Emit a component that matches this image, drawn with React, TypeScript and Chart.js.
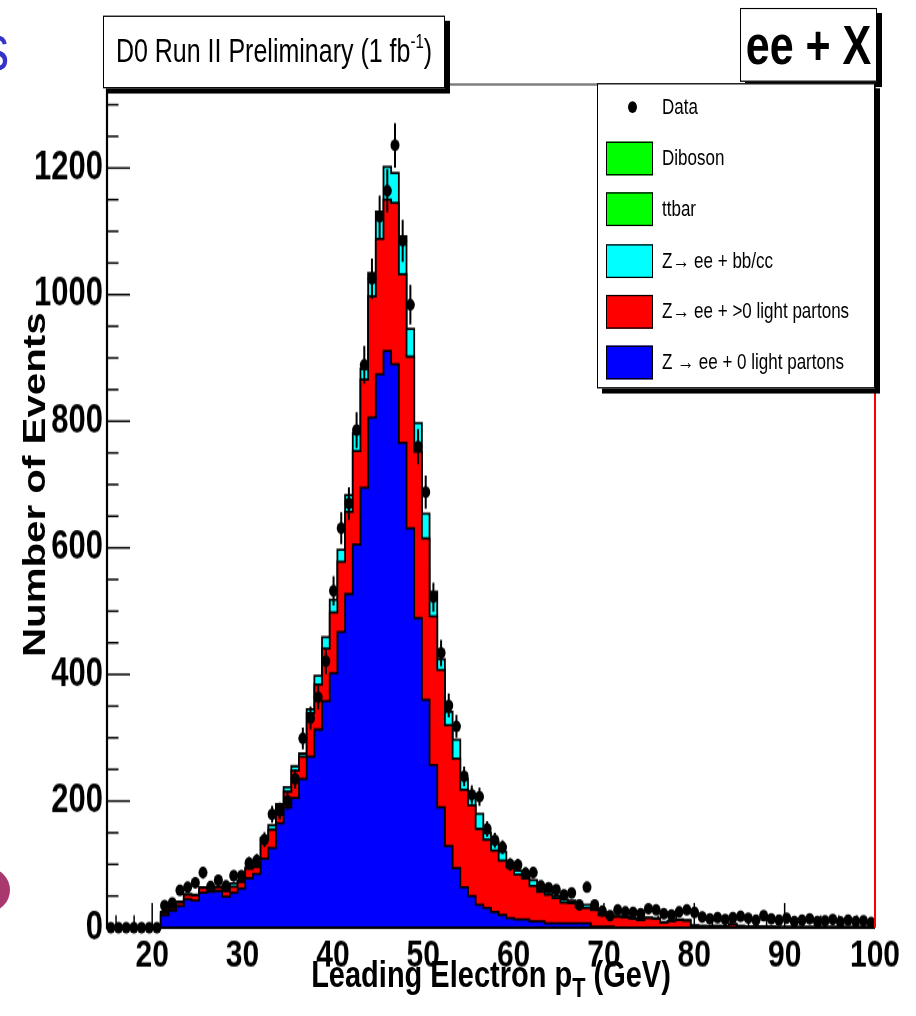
import React, { useEffect, useRef } from "react";
import { Chart, registerables } from "chart.js";

Chart.register(...registerables);

// ---- axis / binning ----
const X_MIN = 15;
const X_MAX = 100;
const N_BINS = 100;
const Y_MAX = 1332;
const xTickValues = [20, 30, 40, 50, 60, 70, 80, 90, 100];
const yTickValues = [0, 200, 400, 600, 800, 1000, 1200];

// ---- per-bin contents (100 bins, 15-100 GeV) ----
// Z -> ee + 0 light partons (blue)
const zee0Light = [
  0, 0, 0, 0, 0, 0, 0, 20, 27, 34,
  45, 43, 55, 57, 58, 49, 55, 62, 78, 85,
  109, 126, 165, 190, 205, 235, 270, 313, 358, 402,
  467, 527, 605, 695, 806, 874, 911, 890, 766, 631,
  489, 360, 257, 190, 129, 94, 64, 50, 36, 31,
  25, 20, 15, 13, 13, 10, 10, 7, 7, 7,
  7, 7, 7, 2, 2, 2, 0, 0, 0, 0,
  0, 0, 0, 0, 0, 0, 0, 0, 0, 0,
  0, 0, 0, 0, 0, 0, 0, 0, 0, 0,
  0, 0, 0, 0, 0, 0, 0, 0, 0, 0,
];
// Z -> ee + >0 light partons (red)
const zeeLight = [
  0, 0, 0, 0, 0, 0, 0, 4, 4, 6,
  7, 8, 8, 5, 6, 9, 10, 10, 15, 11,
  31, 29, 27, 25, 43, 35, 69, 71, 83, 96,
  111, 130, 148, 171, 191, 214, 239, 255, 266, 271,
  263, 255, 235, 217, 191, 173, 154, 143, 120, 108,
  97, 86, 81, 71, 65, 56, 47, 45, 40, 33,
  32, 26, 24, 26, 18, 16, 17, 16, 14, 12,
  15, 14, 8, 10, 12, 11, 3, 3, 2, 3,
  2, 5, 3, 2, 2, 2, 1, 1, 1, 1,
  1, 1, 1, 1, 1, 1, 1, 1, 1, 1,
];
// Z -> ee + bb/cc (cyan)
const zeeHF = [
  0, 0, 0, 0, 0, 0, 0, 1, 1, 1,
  1, 1, 1, 1, 1, 2, 5, 2, 2, 2,
  2, 7, 3, 7, 7, 5, 6, 14, 18, 20,
  19, 26, 28, 17, 37, 43, 52, 47, 60, 44,
  45, 39, 39, 17, 21, 30, 17, 12, 24, 11,
  13, 14, 6, 6, 6, 9, 4, 4, 3, 5,
  4, 3, 5, 2, 2, 1, 1, 1, 1, 1,
  1, 1, 1, 1, 1, 1, 1, 0, 1, 0,
  1, 1, 0, 0, 0, 0, 1, 0, 0, 0,
  0, 0, 0, 0, 0, 0, 0, 0, 0, 0,
];
// Data (black points)
const dataCounts = [
  0, 0, 0, 0, 0, 0, 0, 35, 39, 59,
  64, 71, 87, 65, 75, 66, 82, 82, 102, 106,
  139, 179, 184, 200, 235, 299, 331, 364, 421, 532,
  631, 670, 786, 889, 1025, 1123, 1164, 1236, 1085, 984,
  760, 688, 522, 434, 351, 318, 239, 210, 207, 156,
  138, 127, 100, 99, 86, 87, 66, 63, 60, 52,
  55, 36, 64, 36, 26, 19, 28, 25, 24, 22,
  30, 28, 22, 20, 25, 28, 24, 17, 14, 16,
  13, 16, 18, 15, 12, 19, 14, 12, 15, 10,
  12, 14, 10, 11, 13, 9, 12, 10, 11, 8,
];

const legendEntries = [
  { label: "Data", kind: "marker", color: "#000000" },
  { label: "Diboson", kind: "box", color: "#00ff00" },
  { label: "ttbar", kind: "box", color: "#00ff00" },
  { label: "Z\u2192 ee + bb/cc", kind: "box", color: "#00ffff" },
  { label: "Z\u2192 ee + >0 light partons", kind: "box", color: "#ff0000" },
  { label: "Z \u2192 ee + 0 light partons", kind: "box", color: "#0000ff" },
];

// ---- layout (chart drawn unstretched, then stretched vertically) ----
const W = 916;
const H = 782;
const STRETCH = 1016 / H;
const FONT = '"Liberation Sans", Arial, Helvetica, sans-serif';

const rootAxesPlugin = {
  id: "rootAxes",
  beforeDatasetsDraw(chart: any) {
    const { ctx, chartArea: a, scales } = chart;
    const x = scales.x;
    const y = scales.y;
    ctx.save();
    ctx.strokeStyle = "#000";
    ctx.lineWidth = 1.5;
    for (let v = 0; v <= Y_MAX; v += 50) {
      const py = y.getPixelForValue(v);
      const len = v % 200 === 0 ? 23 : 11.5;
      ctx.beginPath();
      ctx.moveTo(a.left, py);
      ctx.lineTo(a.left + len, py);
      ctx.stroke();
    }
    for (let v = 16; v <= X_MAX; v += 2) {
      const px = x.getPixelForValue(v);
      const len = v % 10 === 0 ? 19 : 9.5;
      ctx.beginPath();
      ctx.moveTo(px, a.bottom);
      ctx.lineTo(px, a.bottom - len);
      ctx.stroke();
    }
    ctx.restore();
  },
  afterDatasetsDraw(chart: any) {
    const { ctx, chartArea: a, scales } = chart;
    const x = scales.x;
    const y = scales.y;
    const bw = (X_MAX - X_MIN) / N_BINS;
    ctx.save();
    ctx.strokeStyle = "#000";
    ctx.lineWidth = 2;
    dataCounts.forEach((v, i) => {
      if (v <= 0) return;
      const c = X_MIN + (i + 0.5) * bw;
      const e = Math.sqrt(v);
      const px = x.getPixelForValue(c);
      const py = y.getPixelForValue(v);
      ctx.beginPath();
      ctx.moveTo(px, y.getPixelForValue(v + e));
      ctx.lineTo(px, y.getPixelForValue(Math.max(0, v - e)));
      ctx.moveTo(x.getPixelForValue(c - bw / 2), py);
      ctx.lineTo(x.getPixelForValue(c + bw / 2), py);
      ctx.stroke();
    });
    // frame
    ctx.lineWidth = 1.2;
    ctx.beginPath();
    ctx.moveTo(a.left, a.top);
    ctx.lineTo(a.right, a.top);
    ctx.stroke();
    ctx.lineWidth = 2.2;
    ctx.beginPath();
    ctx.moveTo(a.left, a.top);
    ctx.lineTo(a.left, a.bottom);
    ctx.lineTo(a.right, a.bottom);
    ctx.stroke();
    ctx.strokeStyle = "#ff0000";
    ctx.lineWidth = 2;
    ctx.beginPath();
    ctx.moveTo(a.right, a.top);
    ctx.lineTo(a.right, a.bottom);
    ctx.stroke();
    ctx.restore();
  },
};

export default function App() {
  const canvasRef = useRef<HTMLCanvasElement>(null);

  useEffect(() => {
    const canvas = canvasRef.current;
    if (!canvas) return;
    const bw = (X_MAX - X_MIN) / N_BINS;
    const edges = Array.from({ length: N_BINS + 1 }, (_, i) => X_MIN + i * bw);
    const cumBlue = zee0Light.slice();
    const cumRed = cumBlue.map((v, i) => v + zeeLight[i]);
    const cumCyan = cumRed.map((v, i) => v + zeeHF[i]);
    const steps = (vals: number[]) =>
      edges.map((e, i) => ({ x: e, y: vals[Math.min(i, N_BINS - 1)] }));
    const points = dataCounts.map((v, i) => ({ x: edges[i] + bw / 2, y: v }));
    const hist = (label: string, vals: number[], color: string, order: number) => ({
      label,
      data: steps(vals),
      stepped: "before",
      fill: "origin",
      backgroundColor: color,
      borderColor: "#000",
      borderWidth: 1.8,
      pointRadius: 0,
      order,
    });
    const xTickFont = { family: FONT, size: 30, weight: "bold" };
    const yTickFont = { family: FONT, size: 31, weight: "bold" };
    const chart = new Chart(canvas, {
      type: "line",
      data: {
        datasets: [
          {
            label: "Data",
            data: points,
            showLine: false,
            pointRadius: 4.5,
            pointBackgroundColor: "#000",
            pointBorderColor: "#000",
            pointBorderWidth: 0,
            clip: false,
            order: 0,
          } as any,
          hist("Z \u2192 ee + 0 light partons", cumBlue, "#0000ff", 1),
          hist("Z\u2192 ee + >0 light partons", cumRed, "#ff0000", 2),
          hist("Z\u2192 ee + bb/cc", cumCyan, "#00ffff", 3),
        ],
      },
      options: {
        animation: false,
        responsive: false,
        maintainAspectRatio: false,
        events: [],
        layout: { padding: { top: 65, right: 41, left: 0, bottom: 0 } },
        plugins: { legend: { display: false }, tooltip: { enabled: false } },
        scales: {
          x: {
            type: "linear",
            min: X_MIN,
            max: X_MAX,
            grid: { display: false },
            border: { display: false },
            ticks: {
              font: xTickFont,
              color: "#000",
              padding: -4,
              maxRotation: 0,
              autoSkip: false,
              callback: (v: any) => String(v),
            },
            afterBuildTicks: (s: any) => {
              s.ticks = xTickValues.map((v) => ({ value: v }));
            },
            afterFit: (s: any) => {
              s.height = 68;
            },
          },
          y: {
            type: "linear",
            min: 0,
            max: Y_MAX,
            grid: { display: false },
            border: { display: false },
            ticks: {
              font: yTickFont,
              color: "#000",
              padding: -4,
              autoSkip: false,
              callback: (v: any) => String(v),
            },
            afterBuildTicks: (s: any) => {
              s.ticks = yTickValues.map((v) => ({ value: v }));
            },
            afterFit: (s: any) => {
              s.width = 107;
            },
          },
        },
      } as any,
      plugins: [rootAxesPlugin],
    });
    return () => chart.destroy();
  }, []);

  const boxStyle: React.CSSProperties = {
    position: "absolute",
    background: "#fff",
    border: "1.5px solid #000",
    boxShadow: "5px 4px 0 #000",
    boxSizing: "border-box",
    fontFamily: FONT,
    color: "#000",
  };

  return (
    <div
      style={{
        position: "fixed",
        left: 0,
        top: 0,
        width: 916,
        height: 1016,
        overflow: "hidden",
        background: "#fff",
      }}
    >
      <div
        style={{
          position: "absolute",
          left: 0,
          top: 0,
          width: W,
          height: H,
          transform: `scaleY(${STRETCH})`,
          transformOrigin: "0 0",
        }}
      >
        <canvas
          ref={canvasRef}
          width={W}
          height={H}
          style={{ position: "absolute", left: 0, top: 0 }}
        />
        {/* slide remnant */}
        <div
          style={{
            position: "absolute",
            left: -16,
            top: 12,
            fontFamily: FONT,
            fontSize: 50,
            color: "#3434c8",
            lineHeight: "50px",
          }}
        >
          s
        </div>
        {/* y axis title */}
        <div
          style={{
            position: "absolute",
            left: 35,
            top: 373,
            transform: "translate(-50%, -50%) rotate(-90deg)",
            whiteSpace: "nowrap",
            fontFamily: FONT,
            fontWeight: "bold",
            fontSize: 31,
            color: "#000",
          }}
        >
          Number of Events
        </div>
        {/* x axis title */}
        <div
          style={{
            position: "absolute",
            left: 491,
            top: 751,
            transform: "translate(-50%, -50%)",
            whiteSpace: "nowrap",
            fontFamily: FONT,
            fontWeight: "bold",
            fontSize: 29,
            color: "#000",
            lineHeight: "32px",
          }}
        >
          Leading Electron p
          <span style={{ fontSize: "75%", position: "relative", top: "0.35em" }}>T</span> (GeV)
        </div>
        {/* title box */}
        <div
          style={{
            ...boxStyle,
            left: 103,
            top: 11.5,
            width: 342,
            height: 56,
            lineHeight: "53px",
            textAlign: "center",
            fontSize: 25,
            whiteSpace: "nowrap",
          }}
        >
          D0 Run II Preliminary (1 fb
          <span style={{ fontSize: "60%", position: "relative", top: "-0.7em" }}>-1</span>)
        </div>
        {/* channel box */}
        <div
          style={{
            ...boxStyle,
            left: 740,
            top: 6,
            width: 137,
            height: 57,
            lineHeight: "54px",
            textAlign: "center",
            fontSize: 43,
            fontWeight: "bold",
            whiteSpace: "nowrap",
          }}
        >
          ee + X
        </div>
        {/* legend */}
        <div style={{ ...boxStyle, left: 597, top: 64, width: 278, height: 235 }}>
          {legendEntries.map((e, i) => {
            const cy = 19.2 + i * 39.3;
            return (
              <React.Fragment key={e.label}>
                {e.kind === "marker" ? (
                  <div
                    style={{
                      position: "absolute",
                      left: 34 - 4.5,
                      top: cy - 4.5 - 1.5,
                      width: 9,
                      height: 9,
                      borderRadius: "50%",
                      background: e.color,
                    }}
                  />
                ) : (
                  <div
                    style={{
                      position: "absolute",
                      left: 8,
                      top: cy - 13 - 1.5,
                      width: 47,
                      height: 26,
                      background: e.color,
                      border: "1.5px solid #000",
                      boxSizing: "border-box",
                    }}
                  />
                )}
                <div
                  style={{
                    position: "absolute",
                    left: 64,
                    top: cy - 12 - 1.5,
                    height: 24,
                    lineHeight: "24px",
                    fontSize: 17,
                    whiteSpace: "nowrap",
                  }}
                >
                  {e.label}
                </div>
              </React.Fragment>
            );
          })}
        </div>
      </div>
      {/* slide remnant circle */}
      <div
        style={{
          position: "absolute",
          left: -34,
          top: 868,
          width: 44,
          height: 44,
          borderRadius: "50%",
          background: "#a8386e",
        }}
      />
    </div>
  );
}
